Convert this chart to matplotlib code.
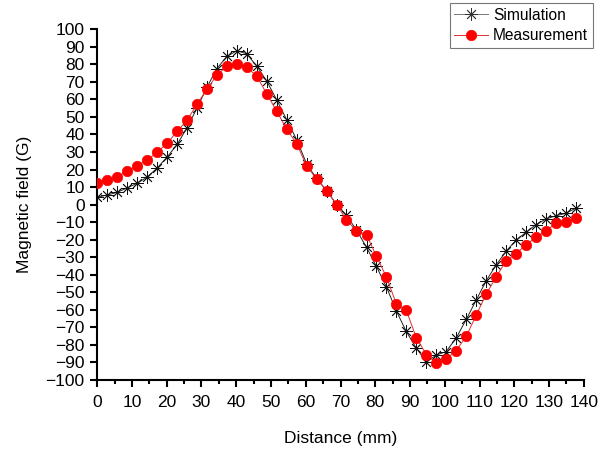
import matplotlib
matplotlib.use("Agg")
import matplotlib.pyplot as plt
from matplotlib.ticker import MultipleLocator

plt.rcParams['font.family'] = ['Liberation Sans', 'DejaVu Sans']

distance = [0.0, 2.9, 5.7, 8.6, 11.5, 14.3, 17.2, 20.1, 23.0, 25.8,
            28.7, 31.6, 34.4, 37.3, 40.2, 43.0, 45.9, 48.8, 51.7, 54.5,
            57.4, 60.3, 63.1, 66.0, 68.9, 71.7, 74.6, 77.5, 80.3, 83.2,
            86.1, 88.9, 91.8, 94.7, 97.5, 100.4, 103.3, 106.2, 109.0, 111.9,
            114.8, 117.6, 120.5, 123.4, 126.2, 129.1, 132.0, 134.8, 137.7]

measurement = [12.6, 14.3, 16.0, 18.9, 22.3, 25.2, 29.8, 34.9, 41.8, 48.0,
               57.2, 65.8, 73.8, 79.0, 80.1, 78.4, 73.3, 63.1, 53.2, 43.1,
               34.7, 21.9, 14.7, 8.0, 0.0, -8.7, -14.9, -17.2, -29.2, -41.2,
               -56.8, -60.0, -75.9, -85.5, -90.2, -88.0, -83.2, -75.0, -63.2, -51.1,
               -41.2, -32.1, -27.9, -22.9, -18.7, -14.9, -10.7, -10.1, -7.6]

simulation = [4.2, 5.5, 7.0, 9.5, 12.2, 15.6, 20.8, 27.1, 34.3, 43.7,
              55.0, 67.0, 77.5, 84.5, 87.8, 86.0, 79.0, 70.4, 59.5, 48.5,
              37.0, 23.0, 15.0, 8.0, 0.0, -6.0, -14.5, -24.4, -35.1, -46.9,
              -60.7, -72.3, -81.8, -89.7, -85.9, -83.8, -76.0, -65.4, -54.6, -43.5,
              -34.3, -26.7, -20.2, -15.8, -11.4, -8.2, -6.3, -5.0, -2.0]

x_ticks = list(range(0, 141, 10))
y_ticks = list(range(-100, 101, 10))

fig = plt.figure(figsize=(6.0, 4.54), dpi=100)
ax = fig.add_axes([0.162, 0.163, 0.811, 0.7725])

ax.plot(distance, simulation, color='#222222', lw=0.7, marker=(8, 2, 0),
        markersize=9, markeredgewidth=0.6, markeredgecolor='#111111',
        label='Simulation', zorder=2)
ax.plot(distance, measurement, color='#e03030', lw=0.7, marker='o',
        markersize=7.5, markerfacecolor='red', markeredgecolor='red',
        markeredgewidth=0.5, label='Measurement', zorder=3)

ax.set_xlim(0, 140)
ax.set_ylim(-100, 100)
ax.set_xticks(x_ticks)
ax.set_yticks(y_ticks)
ax.xaxis.set_minor_locator(MultipleLocator(5))

for side in ['top', 'right']:
    ax.spines[side].set_visible(False)
for side in ['left', 'bottom']:
    ax.spines[side].set_linewidth(1.5)

ax.tick_params(axis='both', which='major', direction='out', length=5, width=1.5,
               labelsize=12.5)
ax.tick_params(axis='y', which='major', pad=4)
ax.tick_params(axis='x', which='major', pad=6)
ax.tick_params(axis='x', which='minor', direction='out', length=3, width=1.5)

ax.set_xlabel('Distance (mm)', fontsize=12.5, labelpad=15)
ax.set_ylabel('Magnetic field (G)', fontsize=12.5, labelpad=10)

h, l = ax.get_legend_handles_labels()
leg = fig.legend(h, l, loc='upper right', bbox_to_anchor=(0.988, 0.993),
                 fontsize=11.2, frameon=True, fancybox=False, borderpad=0.3,
                 labelspacing=0.35, handlelength=2.2, handletextpad=0.3,
                 borderaxespad=0.0)
leg.get_frame().set_edgecolor('#555555')
leg.get_frame().set_linewidth(0.8)
leg.legend_handles[0].set_color('#777777')
leg.legend_handles[0].set_markeredgecolor('#333333')

fig.savefig('out.png', dpi=100)
